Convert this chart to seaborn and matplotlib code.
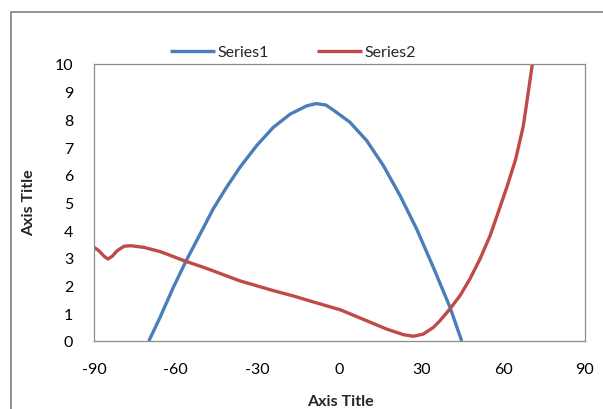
import matplotlib
matplotlib.use("Agg")
import matplotlib.pyplot as plt
from matplotlib.patches import Rectangle
import seaborn as sns
import pandas as pd

# Series 1
s1_x = [-69.9, -65.8, -60.9, -56.0, -51.1, -46.3, -41.4, -36.5, -30.4, -24.3,
        -18.1, -12.0, -8.6, -5.0, -2.3, 3.8, 10.0, 16.1, 22.2, 28.3,
        34.4, 40.5, 44.8]
s1_y = [0.0, 0.85, 1.94, 2.94, 3.86, 4.77, 5.55, 6.27, 7.05, 7.71,
        8.19, 8.49, 8.57, 8.52, 8.34, 7.9, 7.23, 6.33, 5.25, 4.04,
        2.66, 1.22, 0.0]

# Series 2
s2_x = [-90.0, -88.2, -86.3, -84.9, -83.3, -81.5, -79.0, -76.5, -71.7, -65.5,
        -57.0, -48.7, -36.5, -24.3, -16.7, -12.0, -2.3, 0.2, 10.0, 17.3,
        23.4, 27.1, 30.7, 34.4, 36.8, 40.5, 44.2, 47.8, 51.5, 55.2,
        58.2, 61.5, 64.6, 67.4, 69.2, 70.7, 72.0]
s2_y = [3.38, 3.26, 3.06, 2.96, 3.06, 3.26, 3.42, 3.44, 3.38, 3.22,
        2.9, 2.62, 2.17, 1.82, 1.62, 1.48, 1.2, 1.13, 0.73, 0.43,
        0.23, 0.17, 0.25, 0.49, 0.73, 1.16, 1.64, 2.24, 2.96, 3.8,
        4.65, 5.6, 6.57, 7.77, 8.98, 10.0, 11.2]

x_ticks = [-90, -60, -30, 0, 30, 60, 90]
y_ticks = list(range(0, 11))
series_names = ["Series1", "Series2"]
colors = ["#4A7EBB", "#BE4B48"]

df = pd.concat([
    pd.DataFrame({"x": s1_x, "y": s1_y, "series": series_names[0]}),
    pd.DataFrame({"x": s2_x, "y": s2_y, "series": series_names[1]}),
], ignore_index=True)

sns.set_style("white")
plt.rcParams["font.family"] = ["Lato", "DejaVu Sans"]
plt.rcParams["axes.unicode_minus"] = False

fig = plt.figure(figsize=(6.03, 4.10), dpi=100)
W, H = 603, 410
ax = fig.add_axes([94 / W, 1 - 342 / H, (585 - 94) / W, (342 - 65) / H])

sns.lineplot(data=df, x="x", y="y", hue="series", palette=colors,
             sort=False, estimator=None, linewidth=2.4, ax=ax, legend=True)
for ln in ax.get_lines():
    ln.set_solid_joinstyle("round")
    ln.set_solid_capstyle("butt")

ax.set_xlim(-90, 90)
ax.set_ylim(0, 10)
ax.set_xticks(x_ticks)
ax.set_yticks(y_ticks)
ax.tick_params(axis="both", length=0, labelsize=11.5, colors="#000000")
ax.tick_params(axis="y", pad=15)
ax.tick_params(axis="x", pad=15)
for sp in ax.spines.values():
    sp.set_color("#8C8C8C")
    sp.set_linewidth(0.9)

ax.set_xlabel("")
ax.set_ylabel("")
fig.text(340 / W, 1 - 402 / H, "Axis Title", ha="center", va="center",
         fontsize=11.5, fontweight="bold")
fig.text(29 / W, 1 - 203 / H, "Axis Title", ha="center", va="center",
         fontsize=11.5, fontweight="bold", rotation=90)

handles, labels = ax.get_legend_handles_labels()
ax.legend(handles, labels, loc="center", bbox_to_anchor=(293 / W, 1 - 53 / H),
          bbox_transform=fig.transFigure, ncol=2, frameon=False,
          fontsize=11.5, handlelength=2.8, handletextpad=0.15,
          columnspacing=3.0, borderpad=0)

# outer chart frame
fig.patches.append(Rectangle((11 / W, -0.1), 1.2, 1 - 13 / H + 0.1,
                             transform=fig.transFigure, fill=False,
                             edgecolor="#8A8A8A", linewidth=1.3))

fig.savefig("out.png", dpi=100)
